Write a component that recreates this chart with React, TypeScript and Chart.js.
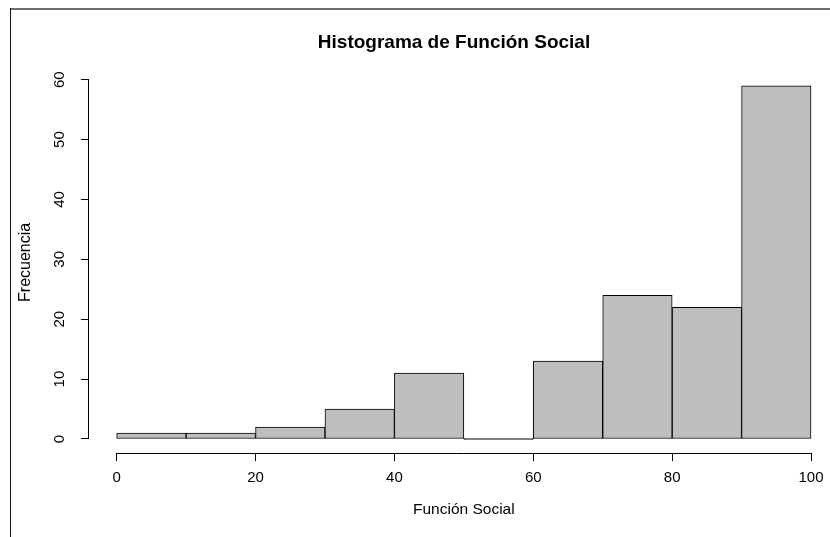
import React, { useEffect, useRef } from "react";
import { Chart, registerables } from "chart.js";

Chart.register(...registerables);

// ---- data ----
const breaks = [0, 10, 20, 30, 40, 50, 60, 70, 80, 90, 100];
const counts = [1, 1, 2, 5, 11, 0, 13, 24, 22, 59];
const xTicks = [0, 20, 40, 60, 80, 100];
const yTicks = [0, 10, 20, 30, 40, 50, 60];
const titleText = "Histograma de Función Social";
const xLabel = "Función Social";
const yLabel = "Frecuencia";

// ---- layout ----
const CANVAS_W = 908;
const CANVAS_H = 537;
const LEFT_W = 88.9;
const RIGHT_W = 69.2;
const BOTTOM_H = 83.9;
const FONT = "'Liberation Sans', Arial, Helvetica, sans-serif";

const rAxisLines = {
  id: "rAxisLines",
  afterDraw(chart: any) {
    const { ctx, chartArea } = chart;
    const x = chart.scales.x;
    const y = chart.scales.y;
    ctx.save();
    ctx.strokeStyle = "#000";
    ctx.lineWidth = 1;
    ctx.beginPath();
    const by = Math.round(chartArea.bottom) + 0.5;
    ctx.moveTo(x.getPixelForValue(xTicks[0]), by);
    ctx.lineTo(x.getPixelForValue(xTicks[xTicks.length - 1]), by);
    const lx = Math.round(chartArea.left) - 0.5;
    ctx.moveTo(lx, y.getPixelForValue(yTicks[0]));
    ctx.lineTo(lx, y.getPixelForValue(yTicks[yTicks.length - 1]));
    ctx.stroke();
    ctx.restore();
  },
};

export default function App() {
  const ref = useRef<HTMLCanvasElement | null>(null);

  useEffect(() => {
    if (!ref.current) return;
    const data = counts.map((c, i) => ({ x: (breaks[i] + breaks[i + 1]) / 2, y: c }));
    const span = breaks[breaks.length - 1] - breaks[0];
    const xMin = breaks[0] - 0.04 * span;
    const xMax = breaks[breaks.length - 1] + 0.04 * span;
    const cMax = Math.max(...counts);
    const yMin = -0.04 * cMax;
    const yMax = cMax + 0.04 * cMax;

    const chart = new Chart(ref.current, {
      type: "bar",
      data: {
        datasets: [
          {
            data,
            backgroundColor: (ctx: any) => (ctx.raw && ctx.raw.y === 0 ? "#000000" : "#BEBEBE"),
            borderColor: "#000000",
            borderWidth: 1,
            borderSkipped: false,
            barPercentage: 1,
            categoryPercentage: 1,
            minBarLength: 1,
          } as any,
        ],
      },
      plugins: [rAxisLines],
      options: {
        animation: false,
        responsive: false,
        devicePixelRatio: 1,
        layout: { padding: 0, autoPadding: false } as any,
        plugins: {
          legend: { display: false },
          tooltip: { enabled: false },
          title: {
            display: true,
            text: titleText,
            color: "#000",
            font: { family: FONT, size: 19, weight: "bold" },
            padding: { top: 31.4, bottom: 17.4 },
          },
        },
        scales: {
          x: {
            type: "linear",
            offset: false,
            min: xMin,
            max: xMax,
            afterBuildTicks: (s: any) => {
              s.ticks = xTicks.map((v) => ({ value: v }));
            },
            afterFit: (s: any) => {
              s.height = BOTTOM_H;
            },
            grid: {
              display: true,
              offset: false,
              drawOnChartArea: false,
              drawTicks: true,
              tickLength: 8,
              color: "#000",
              lineWidth: 1,
            },
            border: { display: false },
            ticks: {
              color: "#000",
              font: { family: FONT, size: 15 },
              padding: 7.4,
              maxRotation: 0,
              minRotation: 0,
              autoSkip: false,
              callback: (v: any) => String(v),
            },
            title: {
              display: true,
              text: xLabel,
              color: "#000",
              font: { family: FONT, size: 15.5 },
              padding: { top: 0, bottom: 18.2 },
            },
          },
          y: {
            type: "linear",
            position: "left",
            min: yMin,
            max: yMax,
            afterBuildTicks: (s: any) => {
              s.ticks = yTicks.map((v) => ({ value: v }));
            },
            afterFit: (s: any) => {
              s.width = LEFT_W;
            },
            grid: { display: true, drawOnChartArea: false, drawTicks: true, tickLength: 8, color: "#000", lineWidth: 1 },
            border: { display: false },
            ticks: {
              color: "#000",
              font: { family: FONT, size: 15 },
              padding: 12.6,
              minRotation: 90,
              maxRotation: 90,
              crossAlign: "center",
              autoSkip: false,
              callback: (v: any) => String(v),
            },
            title: {
              display: true,
              text: yLabel,
              color: "#000",
              font: { family: FONT, size: 16 },
              padding: { top: 16.4, bottom: 0 },
            },
          },
          yRight: {
            type: "linear",
            position: "right",
            display: true,
            afterFit: (s: any) => {
              s.width = RIGHT_W;
            },
            grid: { display: false },
            border: { display: false },
            ticks: { display: false },
          },
        },
      } as any,
    });
    return () => chart.destroy();
  }, []);

  return (
    <div
      style={{
        position: "fixed",
        left: 0,
        top: 0,
        width: 830,
        height: 537,
        overflow: "hidden",
        background: "#fff",
      }}
    >
      <canvas
        ref={ref}
        width={CANVAS_W}
        height={CANVAS_H}
        style={{ position: "absolute", left: 0, top: 0, width: CANVAS_W, height: CANVAS_H }}
      />
      <div style={{ position: "absolute", left: 10, top: 8, right: 0, height: 2, background: "#707070" }} />
      <div style={{ position: "absolute", left: 10, top: 8, bottom: 0, width: 1, background: "#111" }} />
    </div>
  );
}
